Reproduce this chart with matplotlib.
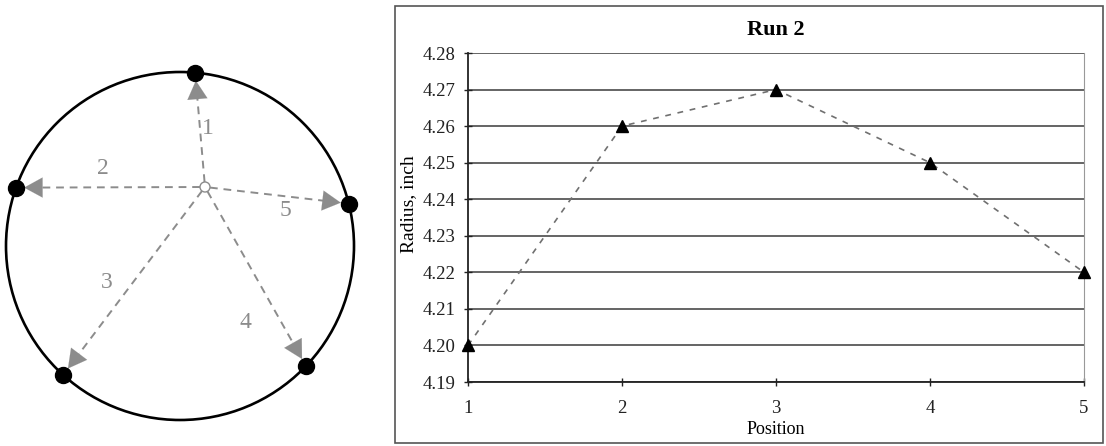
import numpy as np
import matplotlib
matplotlib.use('Agg')
import matplotlib.pyplot as plt
from matplotlib.patches import Circle, Rectangle

plt.rcParams['font.family'] = ['Liberation Serif', 'DejaVu Serif']

# datos de la corrida
posicion = [1, 2, 3, 4, 5]
radio = [4.20, 4.26, 4.27, 4.25, 4.22]
y_ticks = [4.19, 4.20, 4.21, 4.22, 4.23, 4.24, 4.25, 4.26, 4.27, 4.28]

# esquema: angulos (grados) de cada posicion sobre el circulo
etiquetas = ['1', '2', '3', '4', '5']
angulos = [85, 160.4, 227.8, 316.4, 14.1]

W, H = 1106, 446
fig = plt.figure(figsize=(W / 100, H / 100), dpi=100)

################ esquema del circulo (unidades = pixeles)
ax0 = fig.add_axes([0, 0, 370 / W, 1])
ax0.set_xlim(0, 370)
ax0.set_ylim(H, 0)
ax0.axis('off')

cx, cy, r = 180, 246, 174
hx, hy = 205, 187
gris = '#8c8c8c'
ax0.add_patch(Circle((cx, cy), r, fill=False, ec='k', lw=1.9))

# posiciones de los textos
txt_pos = {'1': (208, 128), '2': (103, 168), '3': (107, 282), '4': (245, 323), '5': (285, 210)}

for lab, a in zip(etiquetas, angulos):
    t = np.deg2rad(a)
    px = cx + r * np.cos(t)
    py = cy - r * np.sin(t)
    dx, dy = px - hx, py - hy
    d = np.hypot(dx, dy)
    ux, uy = dx / d, dy / d
    tipx, tipy = px - 8 * ux, py - 8 * uy
    ax0.plot([hx + 5 * ux, tipx - 14 * ux], [hy + 5 * uy, tipy - 14 * uy],
             ls=(0, (4, 3)), c=gris, lw=1.4)
    ax0.annotate('', xy=(tipx, tipy), xytext=(tipx - 20 * ux, tipy - 20 * uy),
                 arrowprops=dict(arrowstyle='-|>,head_length=0.55,head_width=0.3',
                                 color=gris, lw=0.1, mutation_scale=24,
                                 shrinkA=0, shrinkB=0))
    ax0.plot(px, py, 'o', c='k', ms=11.5, zorder=5)
    tx, ty = txt_pos[lab]
    ax0.text(tx, ty, lab, color=gris, fontsize=17, ha='center', va='center')

ax0.add_patch(Circle((hx, hy), 5, fc='white', ec=gris, lw=1, zorder=6))

################ grafico Run 2
fig.patches.append(Rectangle((395 / W, 3 / H), 708 / W, 437 / H, transform=fig.transFigure,
                             fill=False, ec='#555555', lw=1.2))

ax = fig.add_axes([468 / W, (H - 382) / H, (1084 - 468) / W, (382 - 53) / H])
ax.plot(posicion, radio, ls=(0, (3.5, 4)), c='#707070', lw=1.2, zorder=3)
ax.plot(posicion, radio, '^', c='k', ms=9, zorder=4, clip_on=False)

ax.set_xlim(1, 5)
ax.set_ylim(4.19, 4.28)
ax.set_xticks(posicion)
ax.set_yticks(y_ticks)
ax.set_yticklabels(['%.2f' % v for v in y_ticks])
ax.yaxis.grid(True, c='#3a3a3a', lw=1.1)
ax.set_axisbelow(True)
ax.spines['top'].set_visible(False)
ax.spines['right'].set_color('#999999')
ax.spines['left'].set_color('#222222')
ax.spines['bottom'].set_color('#222222')
ax.spines['left'].set_linewidth(1.3)
ax.spines['bottom'].set_linewidth(1.3)
ax.tick_params(axis='both', direction='inout', length=6, width=1, labelsize=13.5, colors='#222222')
ax.tick_params(axis='y', pad=6)
ax.tick_params(axis='x', pad=10)

ax.set_title('Run 2', fontsize=16, fontweight='bold', pad=13)
ax.set_xlabel('Position', fontsize=13)
ax.set_ylabel('Radius, inch', fontsize=14)
ax.yaxis.set_label_coords(-0.083, 0.54)
ax.xaxis.set_label_coords(0.5, -0.118)

fig.savefig('out.png', dpi=100)
